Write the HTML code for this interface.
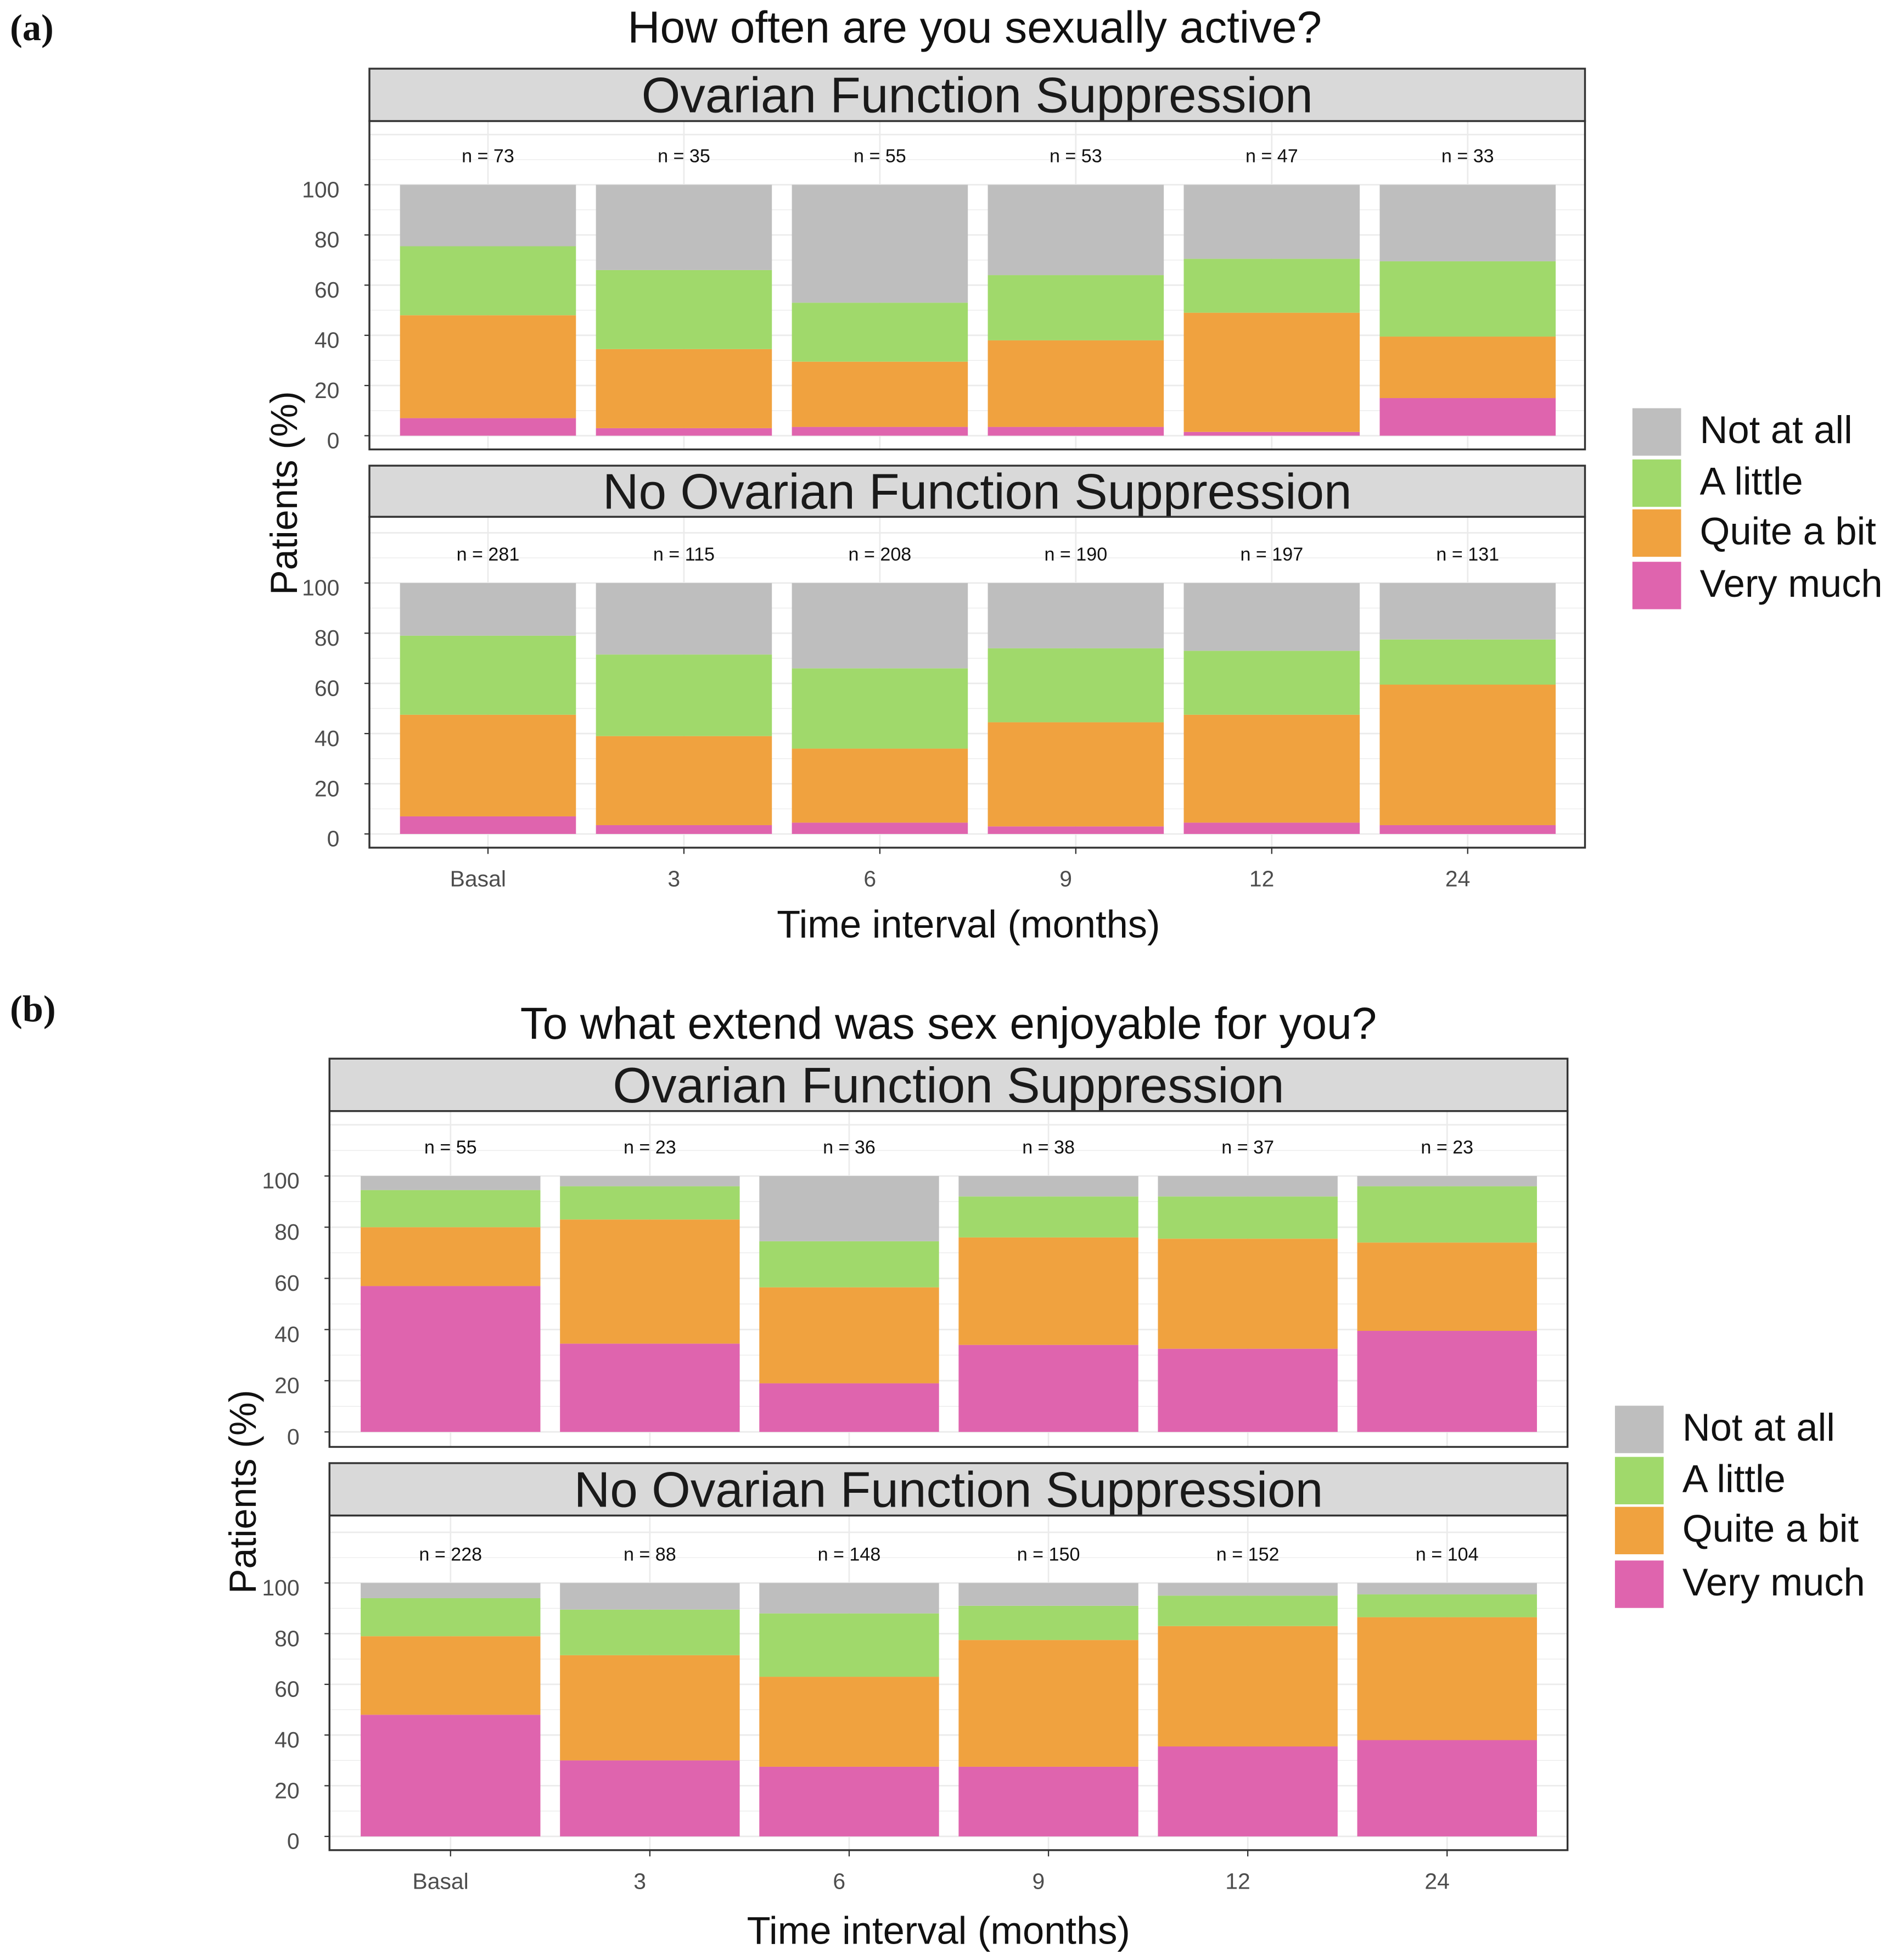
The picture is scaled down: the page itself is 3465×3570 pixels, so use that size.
<!DOCTYPE html>
<html><head><meta charset="utf-8"><style>
html,body{margin:0;padding:0;background:#fff}
svg{display:block}
text{font-family:"Liberation Sans",sans-serif}
</style></head><body>
<svg id="chart" xmlns="http://www.w3.org/2000/svg" width="3465" height="3570" viewBox="0 0 1524 1570" preserveAspectRatio="none">
<rect width="1524" height="1570" fill="#fff"/>
</svg>
<script>
const categories = ["Basal","3","6","9","12","24"];
const seriesNames = ["Very much","Quite a bit","A little","Not at all"];
// Segment values (%) per category: very much, quite a bit, a little, not at all
const aOfsVery   = [7, 3, 3.5, 3.5, 1.5, 15];
const aOfsQuite  = [41, 31.5, 26, 34.5, 47.5, 24.5];
const aOfsLittle = [27.5, 31.5, 23.5, 26, 21.5, 30];
const aOfsNot    = [24.5, 34, 47, 36, 29.5, 30.5];
const aNoVery    = [7, 3.5, 4.5, 3, 4.5, 3.5];
const aNoQuite   = [40.5, 35.5, 29.5, 41.5, 43, 56];
const aNoLittle  = [31.5, 32.5, 32, 29.5, 25.5, 18];
const aNoNot     = [21, 28.5, 34, 26, 27, 22.5];
const bOfsVery   = [57, 34.5, 19, 34, 32.5, 39.5];
const bOfsQuite  = [23, 48.5, 37.5, 42, 43, 34.5];
const bOfsLittle = [14.5, 13, 18, 16, 16.5, 22];
const bOfsNot    = [5.5, 4, 25.5, 8, 8, 4];
const bNoVery    = [48, 30, 27.5, 27.5, 35.5, 38];
const bNoQuite   = [31, 41.5, 35.5, 50, 47.5, 48.5];
const bNoLittle  = [15, 18, 25, 13.5, 12, 9];
const bNoNot     = [6, 10.5, 12, 9, 5, 4.5];
const aOfsN = ["n = 73","n = 35","n = 55","n = 53","n = 47","n = 33"];
const aNoN  = ["n = 281","n = 115","n = 208","n = 190","n = 197","n = 131"];
const bOfsN = ["n = 55","n = 23","n = 36","n = 38","n = 37","n = 23"];
const bNoN  = ["n = 228","n = 88","n = 148","n = 150","n = 152","n = 104"];
const yTicks = [0,20,40,60,80,100];

const colors = {"Very much":"#df64ae","Quite a bit":"#f0a23f","A little":"#a0d96b","Not at all":"#bebebe"};
const svg = document.getElementById('chart');
const NS = "http://www.w3.org/2000/svg";
function mk(tag, attrs, parent){const e=document.createElementNS(NS,tag);for(const k in attrs)e.setAttribute(k,attrs[k]);(parent||svg).appendChild(e);return e;}
function txt(s, attrs, parent){const e=mk('text',attrs,parent);e.textContent=s;return e;}

function panel(cfg){
  const g=mk('g',{});
  
  
  const st=mk('rect',{x:cfg.x0,y:cfg.stripTop,width:cfg.x1-cfg.x0,height:cfg.stripBot-cfg.stripTop,fill:"#d9d9d9",stroke:"#333","stroke-width":1.5},g);
  
  
  const stt=txt(cfg.title,{x:(cfg.x0+cfg.x1)/2,y:(cfg.stripTop+cfg.stripBot)/2+14,"text-anchor":"middle","font-size":40,fill:"#1a1a1a"},g);
  
  
  mk('rect',{x:cfg.x0,y:cfg.stripBot,width:cfg.x1-cfg.x0,height:cfg.panelBot-cfg.stripBot,fill:"#fff"},g);
  const yS=v=>cfg.y0+(cfg.y100-cfg.y0)*v/100;
  const xC=i=>cfg.c0+cfg.step*i;
  for(let v=-10;v<=130;v+=10){const y=yS(v);if(y>cfg.stripBot&&y<cfg.panelBot)mk('line',{x1:cfg.x0,x2:cfg.x1,y1:y,y2:y,stroke:"#ebebeb","stroke-width":v%20===0?1.2:0.6},g);}
  categories.forEach((c,i)=>mk('line',{x1:xC(i),x2:xC(i),y1:cfg.stripBot,y2:cfg.panelBot,stroke:"#ebebeb","stroke-width":1.2},g));
  categories.forEach((c,i)=>{
    let base=0;
    cfg.series.forEach((arr,si)=>{
      const v=arr[i];
      const r=mk('rect',{x:xC(i)-cfg.bw/2,y:yS(base+v),width:cfg.bw,height:yS(base)-yS(base+v),fill:colors[seriesNames[si]]},g);
      
      
      base+=v;
    });
    const n=txt(cfg.ns[i],{x:xC(i),y:cfg.nY,"text-anchor":"middle","font-size":15,fill:"#111"},g);
    
    
  });
  mk('rect',{x:cfg.x0,y:cfg.stripBot,width:cfg.x1-cfg.x0,height:cfg.panelBot-cfg.stripBot,fill:"none",stroke:"#333","stroke-width":1.5},g);
  yTicks.forEach(t=>{
    const tl=txt(String(t),{x:cfg.x0-24,y:yS(t)+10,"text-anchor":"end","font-size":18,fill:"#4d4d4d"},g);
    
    
    mk('line',{x1:cfg.x0-4,x2:cfg.x0,y1:yS(t),y2:yS(t),stroke:"#333"},g);
  });
  if(cfg.xTicks){
    categories.forEach((c,i)=>{
      mk('line',{x1:xC(i),x2:xC(i),y1:cfg.panelBot,y2:cfg.panelBot+5,stroke:"#333"},g);
      const tl=txt(c,{x:xC(i)-8,y:cfg.panelBot+31,"text-anchor":"middle","font-size":18,fill:"#4d4d4d"},g);
      
      
    });
  }
}
function legend(x,ys,tx){
  const g=mk('g',{});
  
  
  ["Not at all","A little","Quite a bit","Very much"].forEach((s,i)=>{
    const r=mk('rect',{x:x,y:ys[i],width:39,height:38,fill:colors[s]},g);
    
    
    const t=txt(s,{x:tx,y:ys[i]+28,"font-size":31,fill:"#111"},g);
    
    
  });
}
function label(s,attrs,name){const t=txt(s,attrs);return t;}

label("(a)",{x:8,y:32,"font-size":30,style:"font-family:'Liberation Serif',serif;font-weight:bold",fill:"#111"},"panel-a-label");
label("How often are you sexually active?",{x:781,y:34,"text-anchor":"middle","font-size":36,fill:"#111"},"chart-a-title");
panel({name:"a-ofs-panel",title:"Ovarian Function Suppression",x0:296,x1:1270,stripTop:55,stripBot:97,panelBot:360,y0:349,y100:148,c0:391,step:157,bw:141,nY:130,ns:aOfsN,series:[aOfsVery,aOfsQuite,aOfsLittle,aOfsNot]});
panel({name:"a-no-ofs-panel",title:"No Ovarian Function Suppression",x0:296,x1:1270,stripTop:373,stripBot:414,panelBot:679,y0:668,y100:467,c0:391,step:157,bw:141,nY:449,ns:aNoN,series:[aNoVery,aNoQuite,aNoLittle,aNoNot],xTicks:true});
label("Time interval (months)",{x:776,y:751,"text-anchor":"middle","font-size":31,fill:"#111"},"a-x-axis-title");
label("Patients (%)",{x:0,y:0,transform:"translate(238,395) rotate(-90)","text-anchor":"middle","font-size":30,fill:"#111"},"a-y-axis-title");
legend(1308,[327,368,408,450],1362);

label("(b)",{x:8,y:818,"font-size":30,style:"font-family:'Liberation Serif',serif;font-weight:bold",fill:"#111"},"panel-b-label");
label("To what extend was sex enjoyable for you?",{x:760,y:832,"text-anchor":"middle","font-size":36,fill:"#111"},"chart-b-title");
panel({name:"b-ofs-panel",title:"Ovarian Function Suppression",x0:264,x1:1256,stripTop:848,stripBot:890,panelBot:1159,y0:1147,y100:942,c0:361,step:159.7,bw:144,nY:924,ns:bOfsN,series:[bOfsVery,bOfsQuite,bOfsLittle,bOfsNot]});
panel({name:"b-no-ofs-panel",title:"No Ovarian Function Suppression",x0:264,x1:1256,stripTop:1172,stripBot:1214,panelBot:1482,y0:1471,y100:1268,c0:361,step:159.7,bw:144,nY:1250,ns:bNoN,series:[bNoVery,bNoQuite,bNoLittle,bNoNot],xTicks:true});
label("Time interval (months)",{x:752,y:1557,"text-anchor":"middle","font-size":31,fill:"#111"},"b-x-axis-title");
label("Patients (%)",{x:0,y:0,transform:"translate(205,1195) rotate(-90)","text-anchor":"middle","font-size":30,fill:"#111"},"b-y-axis-title");
legend(1294,[1126,1167,1207,1250],1348);
</script>
</body></html>
